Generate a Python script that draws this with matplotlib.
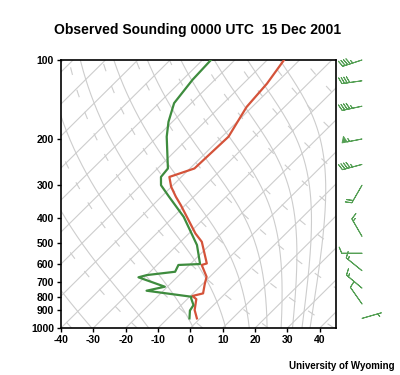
import numpy as np
import matplotlib
matplotlib.use("Agg")
import matplotlib.pyplot as plt

plt.rcParams["axes.unicode_minus"] = False

# ── sounding (pressure hPa, temperature / dewpoint degC) ──
temp_p = [100, 123, 151, 196, 259, 279, 304, 332, 357, 458, 493, 596, 604,
          670, 714, 775, 793, 815, 897, 965]
temp_c = [-54.8, -52.7, -51.7, -48.0, -48.6, -53.7, -50.1, -45.5, -41.4, -28.0,
          -23.4, -15.1, -16.2, -11.0, -9.3, -6.9, -9.4, -7.2, -4.3, -1.0]

dwpt_p = [100, 119, 146, 172, 196, 259, 279, 300, 332, 396, 507, 599, 604,
          641, 660, 673, 731, 757, 798, 810, 859, 901, 965]
dwpt_c = [-77.4, -76.9, -75.3, -71.2, -67.1, -56.8, -56.3, -53.7, -47.6, -36.8,
          -23.9, -17.0, -23.4, -22.3, -30.0, -31.9, -20.8, -25.2, -9.5, -9.0,
          -6.2, -5.6, -3.3]

# winds: pressure hPa, direction deg, speed knots
wind_p = [100, 120, 150, 200, 250, 300, 470, 545, 635, 740, 850, 965]
wind_dir = [252, 262, 258, 259, 255, 210, 330, 270, 309, 310, 325, 74]
wind_spd = [45, 40, 45, 55, 45, 20, 15, 10, 15, 15, 10, 5]

P_BOT, P_TOP = 1050.0, 100.0
SKEW = 82.0          # degC of shift per decade of pressure (≈45°)

GRID = "#cdcdcd"
RED = "#d4533a"
GREEN = "#3e8c3e"


def skew_x(t, p):
    return np.asarray(t) + SKEW * np.log10(P_BOT / np.asarray(p))


def theta_e(T, p):
    es = 6.112 * np.exp(17.67 * (T - 273.15) / (T - 29.65))
    rs = 0.622 * es / (p - es)
    return T * (1000.0 / p) ** 0.2857 * np.exp(2.501e6 * rs / (1005.7 * T))


def moist_line(the, p):
    lo = np.full_like(p, 150.0)
    hi = np.full_like(p, 330.0)
    for _ in range(50):
        mid = 0.5 * (lo + hi)
        big = theta_e(mid, p) > the
        hi = np.where(big, mid, hi)
        lo = np.where(big, lo, mid)
    return 0.5 * (lo + hi) - 273.15


fig = plt.figure(figsize=(4.0, 3.75), dpi=100)
ax = fig.add_axes([61 / 400, 47 / 375, 275 / 400, 268 / 375])
ax.set_yscale("log")
ax.set_ylim(P_BOT, P_TOP)
ax.set_xlim(-40, 45)

p = np.geomspace(P_BOT, P_TOP, 200)

# isotherms
for t in range(-140, 50, 10):
    ax.plot(skew_x(np.full_like(p, t), p), p, color=GRID, lw=0.8, zorder=1)

# dry adiabats (dashed)
for th in range(-60, 200, 20):
    t = (th + 273.15) * (p / 1000.0) ** 0.2857 - 273.15
    ax.plot(skew_x(t, p), p, color=GRID, lw=0.8, ls=(0, (7, 14)), zorder=1)

# saturated adiabats
for the in range(220, 440, 20):
    ax.plot(skew_x(moist_line(float(the), p), p), p, color=GRID, lw=0.8, zorder=1)

ax.plot(skew_x(temp_c, temp_p), temp_p, color=RED, lw=1.6, zorder=3)
ax.plot(skew_x(dwpt_c, dwpt_p), dwpt_p, color=GREEN, lw=1.6, zorder=3)

yt = [100, 200, 300, 400, 500, 600, 700, 800, 900, 1050]
ax.set_yticks(yt)
ax.set_yticklabels([str(v) for v in yt[:-1]] + ["1000"])
ax.yaxis.set_minor_locator(matplotlib.ticker.NullLocator())
ax.set_xticks(range(-40, 50, 10))
ax.tick_params(labelsize=7.5, length=3, width=1, direction="out", pad=2)
for lab in ax.get_xticklabels() + ax.get_yticklabels():
    lab.set_fontweight("bold")
    lab.set_family("Liberation Sans")
for s in ax.spines.values():
    s.set_linewidth(1.2)

# wind barbs to the right of the diagram
bx = fig.add_axes([336 / 400, 47 / 375, 64 / 400, 268 / 375])
bx.set_yscale("log")
bx.set_ylim(P_BOT, P_TOP)
bx.set_xlim(0, 64)
bx.axis("off")
d = np.radians(wind_dir)
u = -np.array(wind_spd) * np.sin(d)
v = -np.array(wind_spd) * np.cos(d)
bx.barbs(np.full(len(wind_p), 26.0), wind_p, u, v, length=5.4, color="#55a055",
         linewidth=0.7, sizes={"height": 0.3, "spacing": 0.13}, clip_on=False)

fig.text(0.495, 0.92, "Observed Sounding 0000 UTC  15 Dec 2001", ha="center",
         va="center", fontsize=10, fontweight="bold", family="Liberation Sans")
fig.text(0.987, 0.024, "University of Wyoming", ha="right", va="center",
         fontsize=7, fontweight="bold", family="Liberation Sans")

fig.savefig("out.png", dpi=100)
